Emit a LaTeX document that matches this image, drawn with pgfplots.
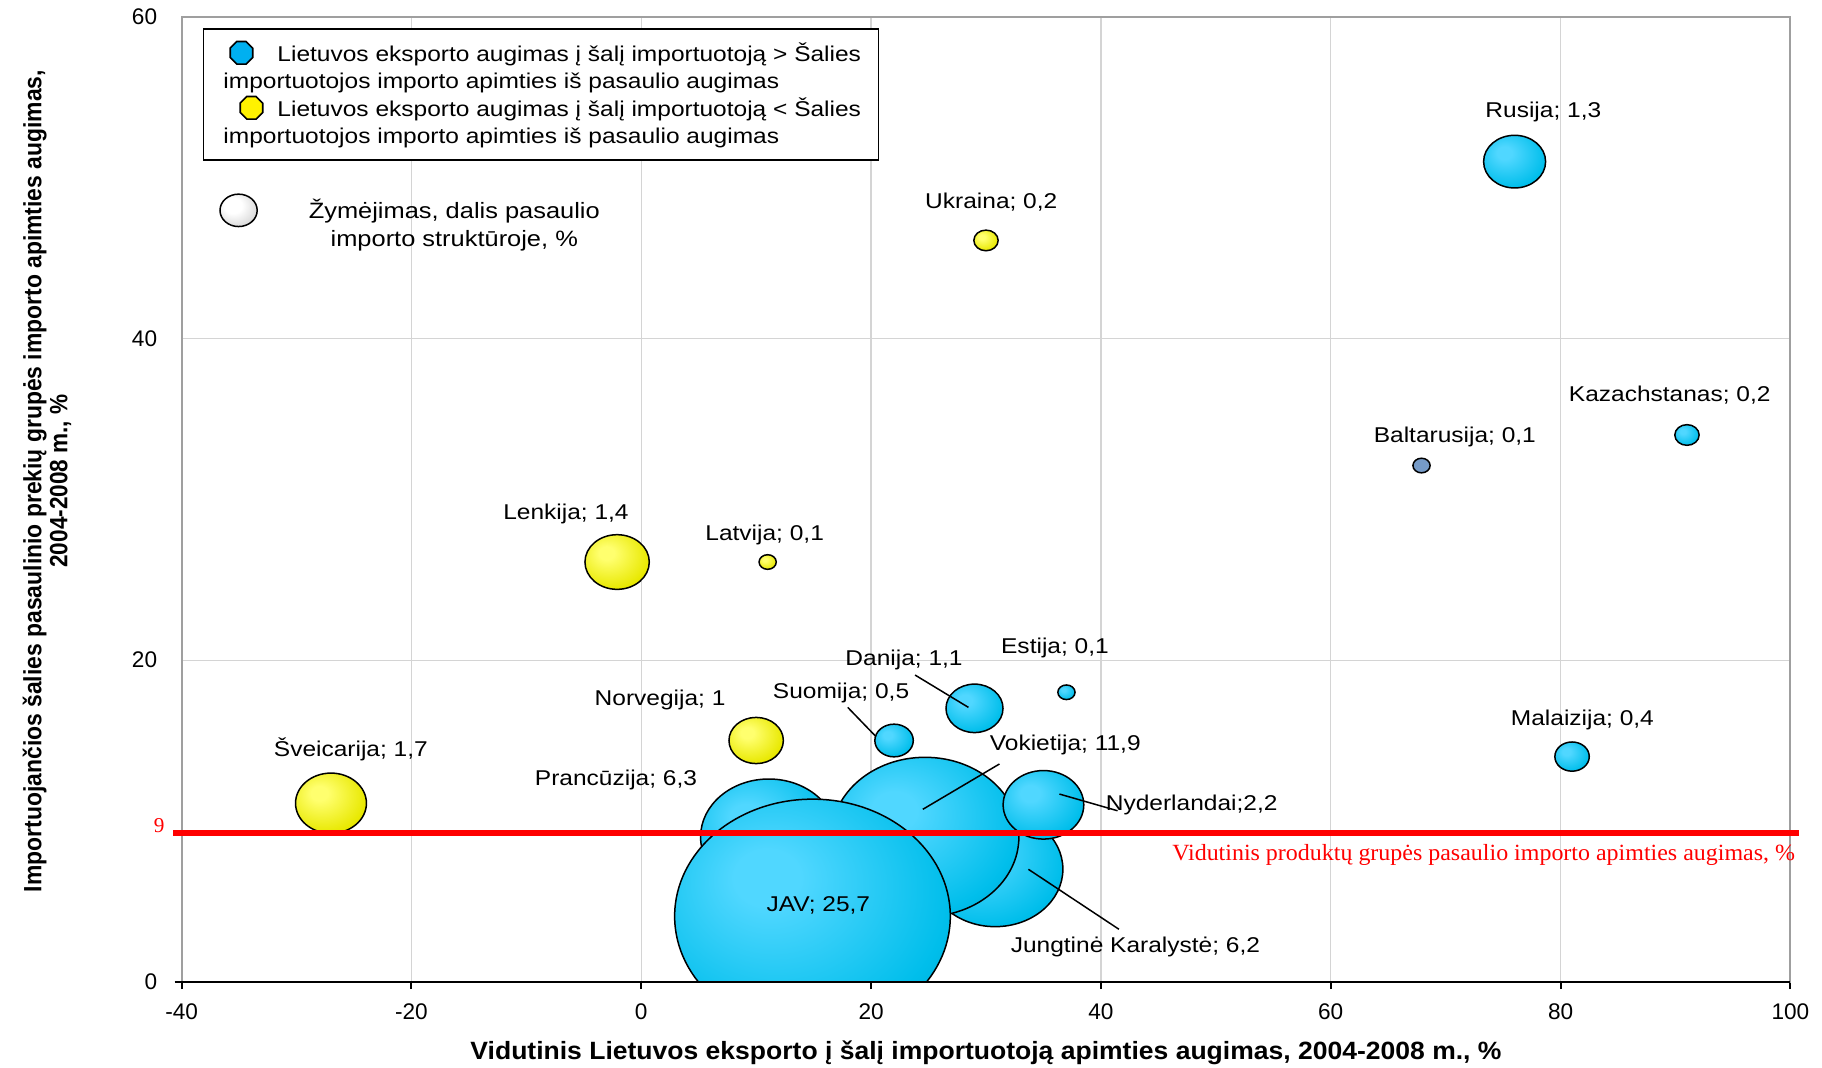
\documentclass[border=0pt]{standalone}
\usepackage{pgfplots}
\pgfplotsset{compat=1.18}
\usepackage{graphicx}
\usepackage{fontspec}
\setmainfont{Liberation Sans}
\newfontfamily\timesfont{Liberation Serif}

\definecolor{cyanL}{RGB}{80,215,255}
\definecolor{cyanM}{RGB}{0,190,235}
\definecolor{cyanD}{RGB}{0,118,152}
\definecolor{yelL}{RGB}{255,255,110}
\definecolor{yelM}{RGB}{232,232,0}
\definecolor{yelD}{RGB}{150,150,0}
\definecolor{grayM}{RGB}{215,215,215}
\definecolor{grayD}{RGB}{140,140,140}
\definecolor{baltF}{RGB}{118,155,200}
\definecolor{legC}{RGB}{0,176,240}
\definecolor{gridc}{RGB}{212,212,212}

\pgfdeclareradialshading{cyanbub}{\pgfpoint{-9bp}{9bp}}{color(0bp)=(cyanL); color(6bp)=(cyanL); color(30bp)=(cyanM); color(58bp)=(cyanD); color(70bp)=(cyanD)}
\pgfdeclareradialshading{yelbub}{\pgfpoint{-9bp}{9bp}}{color(0bp)=(yelL); color(6bp)=(yelL); color(30bp)=(yelM); color(58bp)=(yelD); color(70bp)=(yelD)}
\pgfdeclareradialshading{graybub}{\pgfpoint{-9bp}{9bp}}{color(0bp)=(white); color(12bp)=(white); color(32bp)=(grayM); color(58bp)=(grayD); color(70bp)=(grayD)}

% bubbles are ellipses, 1.177 wider than high (as in the original)
\newcommand\bubpath{\pgfpathellipse{\pgfpointorigin}{\pgfqpoint{1.177\pgfplotmarksize}{0pt}}{\pgfqpoint{0pt}{\pgfplotmarksize}}}
\pgfdeclareplotmark{cbub}{\bubpath\pgfshadepath{cyanbub}{0}\bubpath\pgfusepathqstroke}
\pgfdeclareplotmark{ybub}{\bubpath\pgfshadepath{yelbub}{0}\bubpath\pgfusepathqstroke}
\pgfdeclareplotmark{bbub}{\bubpath\pgfsetfillcolor{baltF}\pgfusepathqfillstroke}

\newcommand\sx[1]{\scalebox{1.145}[1]{#1}}
\tikzset{lbl/.style={font=\fontsize{10.7}{12}\selectfont, inner sep=0pt}}

\begin{document}
\begin{tikzpicture}
\path[use as bounding box] (-90.8pt,-42.65pt) rectangle (820.2pt,490.85pt);
\begin{axis}[
  at={(0,0)}, anchor=south west,
  width=804.4pt, height=482.4pt, scale only axis,
  xmin=-40, xmax=100, ymin=0, ymax=60,
  xtick={-40,-20,...,100}, ytick={0,20,40,60},
  grid=major, major grid style={gridc, line width=0.6pt},
  axis line style={gray!75, line width=1pt},
  tick align=outside, xtick pos=left, ytick pos=left,
  major tick length=3.7pt,
  xtick style={black, line width=1pt},
  ytick style={draw=none},
  tick label style={font=\fontsize{11.3}{13}\selectfont},
  xticklabel style={yshift=-4pt},
  yticklabel style={xshift=-5pt},
  /pgf/number format/assume math mode=true,
  clip mode=individual, clip marker paths=true,
  legend style={at={(0.0131,0.9885)}, anchor=north west, draw=black, line width=0.8pt,
    fill=white, inner xsep=0pt, inner ysep=5.8pt, row sep=1.1pt, column sep=0pt,
    font=\fontsize{10.7}{13.5}\selectfont, nodes={inner sep=0pt, align=left}},
  legend cell align=left,
]

% Lietuvos eksporto augimas > importo augimas
\addplot[scatter, only marks, mark=cbub,
  mark options={line width=0.75pt, draw=black, solid},
  scatter/use mapped color={draw=black},
  visualization depends on={11.55*sqrt(\thisrow{s}) \as \rad},
  scatter/@pre marker code/.append style={/tikz/mark size=\rad},
  legend image code/.code={
    \path[draw=none, fill=none] (0pt,-13.2pt) rectangle (37pt,13.2pt);
    \filldraw[fill=legC, draw=black, line width=0.8pt, shift={(19pt,7pt)}]
      (22.5:6.1pt) -- (67.5:6.1pt) -- (112.5:6.1pt) -- (157.5:6.1pt) -- (202.5:6.1pt)
      -- (247.5:6.1pt) -- (292.5:6.1pt) -- (337.5:6.1pt) -- cycle;}]
  table {
  x     y     s
  30.8  7.0   6.2
  11.1  9.0   6.3
  24.7  9.0   11.9
  14.9  4.07  25.7
  35.0  11.0  2.2
  29.0  17.0  1.1
  22.0  15.0  0.5
  37.0  18.0  0.1
  81.0  14.0  0.4
  91.0  34.0  0.2
  76.0  51.0  1.3
  };
\addlegendentry{\sx{Lietuvos eksporto augimas į šalį importuotoją > Šalies}\hspace*{8.6pt}\\\hspace*{-27pt}\sx{importuotojos importo apimties iš pasaulio augimas}}

% Lietuvos eksporto augimas < importo augimas
\addplot[scatter, only marks, mark=ybub,
  mark options={line width=0.75pt, draw=black, solid},
  scatter/use mapped color={draw=black},
  visualization depends on={11.55*sqrt(\thisrow{s}) \as \rad},
  scatter/@pre marker code/.append style={/tikz/mark size=\rad},
  legend image code/.code={
    \path[draw=none, fill=none] (0pt,-13.2pt) rectangle (37pt,13.2pt);
    \filldraw[fill=yellow, draw=black, line width=0.8pt, shift={(24pt,7pt)}]
      (22.5:6.1pt) -- (67.5:6.1pt) -- (112.5:6.1pt) -- (157.5:6.1pt) -- (202.5:6.1pt)
      -- (247.5:6.1pt) -- (292.5:6.1pt) -- (337.5:6.1pt) -- cycle;}]
  table {
  x     y     s
  -2.1  26.1  1.4
  11.0  26.1  0.1
  30.0  46.1  0.2
  10.0  15.0  1.0
  -27.0 11.1  1.7
  };
\addlegendentry{\sx{Lietuvos eksporto augimas į šalį importuotoją < Šalies}\hspace*{8.6pt}\\\hspace*{-27pt}\sx{importuotojos importo apimties iš pasaulio augimas}}

% Baltarusija
\addplot[scatter, only marks, mark=bbub, forget plot,
  mark options={line width=0.75pt, draw=black, solid},
  scatter/use mapped color={draw=black},
  visualization depends on={11.55*sqrt(\thisrow{s}) \as \rad},
  scatter/@pre marker code/.append style={/tikz/mark size=\rad}]
  table {
  x     y     s
  67.9  32.1  0.1
  };

% black x axis line
\draw[black, line width=1.2pt] ([xshift=-3.5pt]axis cs:-40,0) -- (axis cs:100,0);

% average line
\draw[red, line width=2.85pt] (axis cs:-40.72,9.23) -- (axis cs:100.73,9.23);
\node[red, anchor=east, inner sep=0pt, font=\timesfont\fontsize{10.6}{12}\selectfont]
  at ([xshift=-8.3pt]axis cs:-40,9.68) {9};
\node[red, anchor=east, inner sep=0pt, font=\timesfont\fontsize{11.6}{13}\selectfont]
  at (axis cs:100.44,7.87) {\resizebox{311.4pt}{\height}{Vidutinis produktų grupės pasaulio importo apimties augimas, \%}};

% size key
\shade[shading=graybub, draw=black, line width=0.75pt] (axis cs:-35.04,47.97) ellipse [x radius=9.3pt, y radius=8.1pt];
\node[lbl, align=center, font=\fontsize{11.1}{13.9}\selectfont] at (axis cs:-16.27,47.04)
  {\sx{Žymėjimas, dalis pasaulio}\\\sx{importo struktūroje, \%}};

% data labels
\node[lbl] at (axis cs:78.5,54.1) {\sx{Rusija; 1,3}};
\node[lbl] at (axis cs:30.46,48.48) {\sx{Ukraina; 0,2}};
\node[lbl] at (axis cs:89.5,36.5) {\sx{Kazachstanas; 0,2}};
\node[lbl] at (axis cs:70.8,33.9) {\sx{Baltarusija; 0,1}};
\node[lbl] at (axis cs:-6.55,29.1) {\sx{Lenkija; 1,4}};
\node[lbl] at (axis cs:10.74,27.8) {\sx{Latvija; 0,1}};
\node[lbl] at (axis cs:36.0,20.73) {\sx{Estija; 0,1}};
\node[lbl] at (axis cs:22.87,20.0) {\sx{Danija; 1,1}};
\node[lbl] at (axis cs:17.39,17.97) {\sx{Suomija; 0,5}};
\node[lbl] at (axis cs:1.64,17.55) {\sx{Norvegija; 1}};
\node[lbl] at (axis cs:81.9,16.25) {\sx{Malaizija; 0,4}};
\node[lbl] at (axis cs:-25.27,14.44) {\sx{Šveicarija; 1,7}};
\node[lbl] at (axis cs:36.9,14.73) {\sx{Vokietija; 11,9}};
\node[lbl] at (axis cs:-2.2,12.56) {\sx{Prancūzija; 6,3}};
\node[lbl] at (axis cs:47.9,10.99) {\sx{Nyderlandai;2,2}};
\node[lbl] at (axis cs:15.41,4.77) {\sx{JAV; 25,7}};
\node[lbl] at (axis cs:43.0,2.16) {\sx{Jungtinė Karalystė; 6,2}};

% leader lines
\draw[black, line width=0.75pt] (axis cs:23.83,19.07) -- (axis cs:28.47,17.06);
\draw[black, line width=0.75pt] (axis cs:17.97,17.06) -- (axis cs:20.43,15.24);
\draw[black, line width=0.75pt] (axis cs:31.17,13.54) -- (axis cs:24.5,10.72);
\draw[black, line width=0.75pt] (axis cs:36.39,11.67) -- (axis cs:41.45,10.63);
\draw[black, line width=0.75pt] (axis cs:33.69,6.99) -- (axis cs:41.57,3.26);

% axis titles
\node[font=\bfseries\fontsize{12.5}{14}\selectfont, inner sep=0pt] at ([yshift=-35.6pt]axis cs:30,0)
  {\resizebox{515.5pt}{\height}{Vidutinis Lietuvos eksporto į šalį importuotoją apimties augimas, 2004-2008 m., \%}};
\node[rotate=90, align=center, inner sep=0pt, font=\bfseries\fontsize{12.5}{13}\selectfont]
  at ([xshift=-67.3pt]axis cs:-40,31.14)
  {\resizebox{411pt}{\height}{Importuojančios šalies pasaulinio prekių grupės importo apimties augimas,}\\
   \resizebox{86.6pt}{\height}{2004-2008 m., \%}};
\end{axis}
\end{tikzpicture}
\end{document}
